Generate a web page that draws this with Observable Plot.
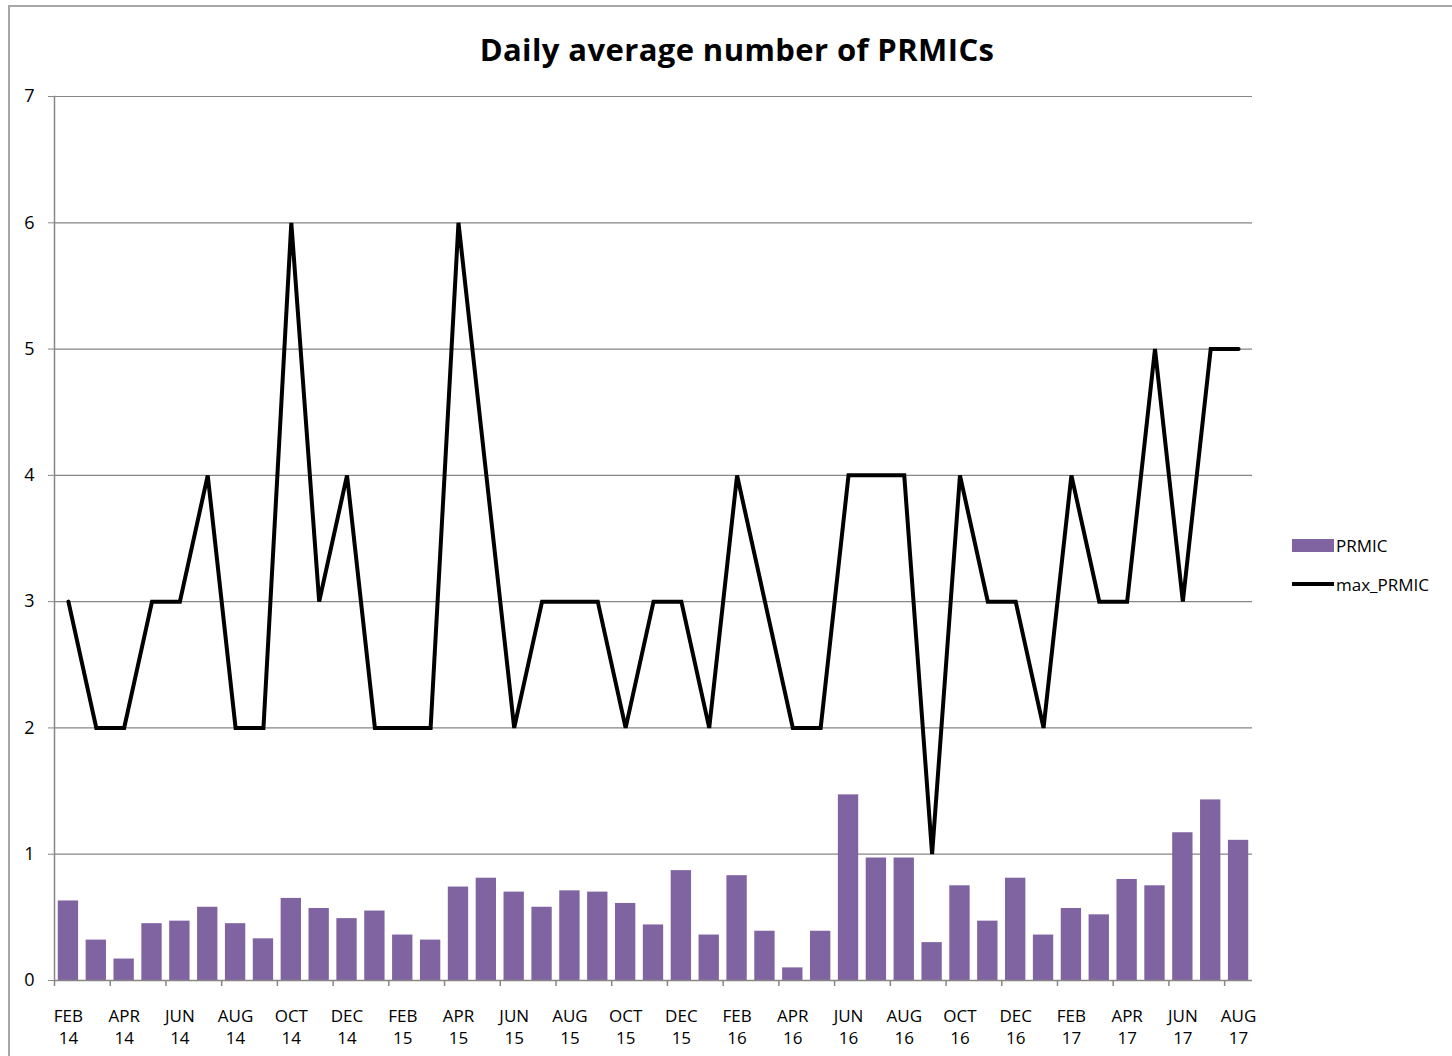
<!DOCTYPE html>
<html>
<head>
<meta charset="utf-8">
<script src="https://cdn.jsdelivr.net/npm/d3@7"></script>
<script src="https://cdn.jsdelivr.net/npm/@observablehq/plot@0.6"></script>
<style>
  html, body { margin: 0; padding: 0; background: #fff; width: 1452px; height: 1056px; overflow: hidden; }
  #frame { position: absolute; left: 8px; top: 5px; width: 1500px; height: 1100px; border-left: 2px solid #a6a6a6; border-top: 2px solid #a6a6a6; }
  #title { position: absolute; left: 0; top: 28px; width: 1474px; text-align: center; font-family: "Open Sans", sans-serif; font-weight: bold; font-size: 31px; letter-spacing: 0.4px; color: #000; }
  #chart { position: absolute; left: 0; top: 70px; }
  #legend { position: absolute; left: 1292px; top: 534px; font-family: "Open Sans", sans-serif; font-size: 17px; color: #000; }
  .item { display: flex; align-items: center; height: 22px; margin-bottom: 17px; }
  .sw-bar { width: 42px; height: 13px; background: #8064A2; margin-right: 2px; }
  .sw-line { width: 42px; height: 4px; background: #000; margin-right: 2px; }
</style>
</head>
<body>
<div id="frame"></div>
<div id="title">Daily average number of PRMICs</div>
<div id="chart"></div>
<div id="legend">
  <div class="item"><div class="sw-bar"></div><span>PRMIC</span></div>
  <div class="item"><div class="sw-line"></div><span>max_PRMIC</span></div>
</div>
<script>
const months = ["FEB 14","MAR 14","APR 14","MAY 14","JUN 14","JUL 14","AUG 14","SEP 14","OCT 14","NOV 14","DEC 14","JAN 15",
  "FEB 15","MAR 15","APR 15","MAY 15","JUN 15","JUL 15","AUG 15","SEP 15","OCT 15","NOV 15","DEC 15","JAN 16",
  "FEB 16","MAR 16","APR 16","MAY 16","JUN 16","JUL 16","AUG 16","SEP 16","OCT 16","NOV 16","DEC 16","JAN 17",
  "FEB 17","MAR 17","APR 17","MAY 17","JUN 17","JUL 17","AUG 17"];
const prmic = [0.63,0.32,0.17,0.45,0.47,0.58,0.45,0.33,0.65,0.57,0.49,0.55,
  0.36,0.32,0.74,0.81,0.70,0.58,0.71,0.70,0.61,0.44,0.87,0.36,
  0.83,0.39,0.10,0.39,1.47,0.97,0.97,0.30,0.75,0.47,0.81,0.36,
  0.57,0.52,0.80,0.75,1.17,1.43,1.11];
const maxPrmic = [3,2,2,3,3,4,2,2,6,3,4,2,
  2,2,6,4,2,3,3,3,2,3,3,2,
  4,3,2,2,4,4,4,1,4,3,3,2,
  4,3,3,5,3,5,5];
const yTicks = [0,1,2,3,4,5,6,7];

const data = months.map((m, i) => ({month: m, prmic: prmic[i], max: maxPrmic[i]}));
const labelMonths = months.filter((m, i) => i % 2 === 0);

const W = 1452, H = 1056 - 70;
const mL = 54, mR = 200;
const step = (W - mL - mR) / months.length;
const gray = "#868686";

const chart = Plot.plot({
  width: W, height: H,
  marginTop: 26, marginLeft: mL, marginRight: mR, marginBottom: 76,
  style: {fontFamily: "Open Sans", fontSize: "18px", color: "#000", background: "transparent", overflow: "visible"},
  x: {type: "band", domain: months, paddingInner: 0.27, paddingOuter: 0.135, axis: null},
  y: {domain: [0, 7], axis: null},
  marks: [
    Plot.gridY(yTicks.slice(1), {stroke: gray, strokeOpacity: 1, strokeWidth: 1.2}),
    Plot.barY(data, {x: "month", y: "prmic", fill: "#8064A2"}),
    Plot.ruleY([0], {stroke: gray, strokeWidth: 1.5}),
    Plot.frame({anchor: "left", stroke: gray, strokeWidth: 1.5}),
    Plot.axisY(yTicks, {tickSize: 6, tickPadding: 14, stroke: gray, label: null, fontSize: 18, tickFormat: d3.format("d")}),
    Plot.axisX(labelMonths, {tickSize: 6, fill: "none", tickFormat: () => "", dx: -step / 2, stroke: gray, strokeWidth: 1.5, label: null}),
    Plot.axisX(labelMonths, {tickSize: 0, tickPadding: 27, tickFormat: d => d.replace(" ", "\n"), lineHeight: 1.24, label: null, fontSize: 17}),
    Plot.lineY(data, {x: "month", y: "max", stroke: "#000", strokeWidth: 4, strokeLinejoin: "miter", strokeMiterlimit: 3})
  ]
});
document.getElementById("chart").appendChild(chart);
</script>
</body>
</html>
